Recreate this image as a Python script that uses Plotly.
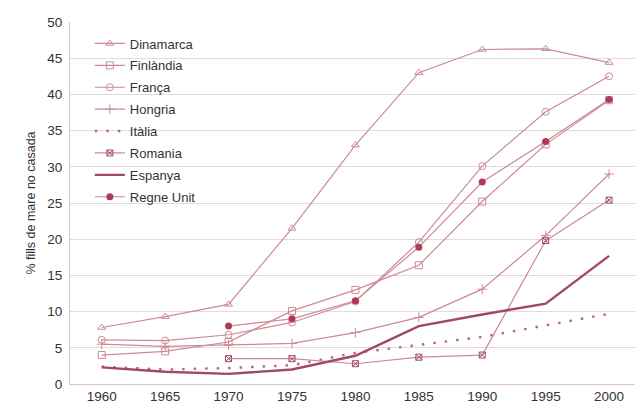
import plotly.graph_objects as go

years = [1960, 1965, 1970, 1975, 1980, 1985, 1990, 1995, 2000]

dinamarca = [7.8, 9.3, 11.0, 21.5, 33.0, 43.0, 46.2, 46.3, 44.4]
finlandia = [4.0, 4.5, 5.8, 10.1, 13.0, 16.4, 25.2, 33.1, 39.2]
franca = [6.1, 6.0, 6.8, 8.5, 11.4, 19.6, 30.1, 37.6, 42.5]
hongria = [5.5, 5.2, 5.4, 5.6, 7.1, 9.2, 13.1, 20.5, 29.0]
italia = [2.4, 2.0, 2.2, 2.6, 4.3, 5.4, 6.5, 8.1, 9.7]
romania = [None, None, 3.5, 3.5, 2.8, 3.7, 4.0, 19.8, 25.4]
espanya = [2.3, 1.7, 1.4, 2.0, 3.9, 8.0, 9.6, 11.1, 17.7]
regne_unit = [None, None, 8.0, 9.0, 11.5, 18.9, 27.9, 33.5, 39.3]

thin = "#cc8a95"
dark = "#a04a60"

series = [
    ("Dinamarca", dinamarca, dict(symbol="triangle-up-open", size=7, color=thin), dict(color=thin, width=1.2)),
    ("Finlàndia", finlandia, dict(symbol="square-open", size=7, color=thin), dict(color=thin, width=1.2)),
    ("França", franca, dict(symbol="circle-open", size=7, color=thin), dict(color=thin, width=1.2)),
    ("Hongria", hongria, dict(symbol="cross-thin-open", size=7, color=thin, line=dict(width=1, color=thin)), dict(color=thin, width=1.2)),
    ("Itàlia", italia, None, dict(color="#b86878", width=2.4, dash="2.5px,9px")),
    ("Romania", romania, dict(symbol="square-x-open", size=6, color=dark), dict(color=thin, width=1.2)),
    ("Espanya", espanya, None, dict(color=dark, width=2.4)),
    ("Regne Unit", regne_unit, dict(symbol="circle", size=7, color="#b03a55"), dict(color=thin, width=1.2)),
]

fig = go.Figure()
for name, vals, marker, line in series:
    kw = dict(x=years, y=vals, name=name, line=line, legendgroup=name, connectgaps=False)
    if marker:
        kw.update(mode="lines+markers", marker=marker)
    else:
        kw.update(mode="lines")
    fig.add_trace(go.Scatter(**kw))

# page body adds an 8px offset; margins compensate
fig.update_layout(
    width=643, height=412,
    margin=dict(l=62, r=14, t=14, b=36),
    paper_bgcolor="white", plot_bgcolor="white",
    font=dict(family="Liberation Sans, Arial, sans-serif", size=13, color="#333333"),
    showlegend=True,
    legend=dict(x=0.035, y=0.982, xanchor="left", yanchor="top",
                bgcolor="rgba(0,0,0,0)", font=dict(size=13, color="#333333"),
                tracegroupgap=2, itemwidth=30),
)
fig.update_xaxes(range=[1957.5, 2002.2], tickvals=years, showgrid=False,
                 showline=True, linecolor="#d8c8cc", linewidth=1,
                 ticks="", zeroline=False, tickfont=dict(size=13.5, color="#333333"))
fig.update_yaxes(range=[0, 50], dtick=5, showgrid=True, gridcolor="#e2dadc", gridwidth=1,
                 showline=True, linecolor="#d8c8cc", linewidth=1, zeroline=False,
                 ticks="", ticklabelstandoff=4, automargin=False,
                 title=dict(text="% fills de mare no casada", font=dict(size=12.5, color="#333333"), standoff=8),
                 tickfont=dict(size=13.5, color="#333333"))

fig.write_html("out.html")
